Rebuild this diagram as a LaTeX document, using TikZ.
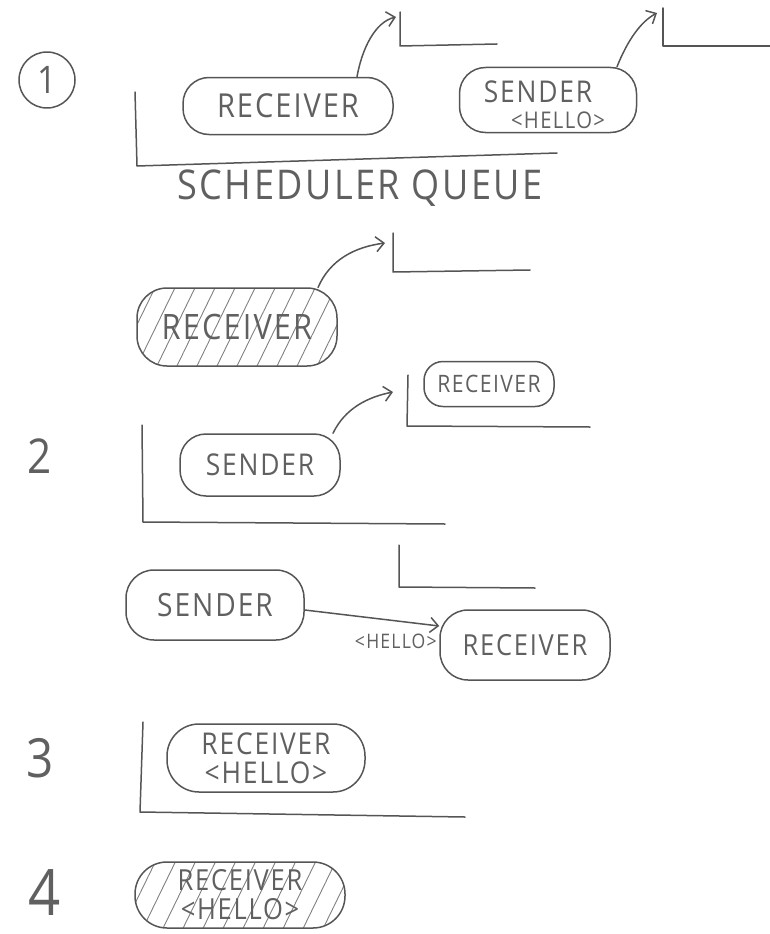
\documentclass[tikz,border=0pt]{standalone}
\usepackage{fontspec}
\setmainfont{Open Sans}[FakeStretch=0.88,LetterSpace=6]
\usetikzlibrary{arrows.meta,patterns.meta}
\definecolor{pencil}{HTML}{555555}
\definecolor{lead}{HTML}{606060}
\newcommand{\fsz}[1]{\fontsize{#1}{#1}\selectfont}
\tikzset{
  pencilline/.style={draw=pencil, line width=1.5pt, line cap=round, line join=round},
  procbox/.style={pencilline, rounded corners=26pt, inner sep=0pt, text=lead, align=center, font=\fsz{33}},
  hatched/.style={pattern={Lines[angle=64,distance=18pt,line width=0.9pt]}, pattern color=pencil!75},
  hop/.style={pencilline, -{Straight Barb[length=8pt,width=15pt,line width=1.5pt]}},
  steplbl/.style={text=lead, font=\fsz{48}},
  msg/.style={text=lead, font=\fsz{20}},
}
\begin{document}
\begin{tikzpicture}[x=1pt,y=-1pt]
\useasboundingbox (0,0) rectangle (770,934);

% ---------- step 1 ----------
\node[pencilline, circle, minimum size=56pt, text=lead, font=\fsz{38}] (s1) at (47,80) {1};
\draw[pencilline] (135,92) -- (137,166) -- (557,153);
\node[text=lead, font=\fsz{41}] (sq) at (360,188) {SCHEDULER QUEUE};

\node[procbox, minimum width=210pt, minimum height=57pt] (rcv1) at (288,106) {RECEIVER};
\node[procbox, minimum width=177pt, minimum height=65pt] (snd1) at (548,100) {};
\node[text=lead, font=\fsz{30}] (snd1t) at (538,92) {SENDER};
\node[text=lead, font=\fsz{23}] (snd1m) at (558,120) {<HELLO>};

\draw[pencilline] (400,12) -- (400,46) -- (497,44);
\coordinate (q1) at (396,17);
\draw[hop] ([xshift=69pt]rcv1.north) .. controls +(5,-28) and (375,22) .. (q1);

\draw[pencilline] (663,8) -- (663,46) -- (770,46);
\coordinate (q2) at (657,13);
\draw[hop] ([xshift=69pt]snd1.north) .. controls +(10,-25) and (640,22) .. (q2);

% ---------- step 2 ----------
\draw[pencilline] (393,233) -- (393,272) -- (530,270);
\node[procbox, hatched, rounded corners=30pt, minimum width=200pt, minimum height=78pt, font=\fsz{35}] (rcv2) at (237,327) {RECEIVER};
\coordinate (q3) at (385,243);
\draw[hop] ([xshift=81pt]rcv2.north) .. controls +(12,-28) and (355,247) .. (q3);

\node[procbox, rounded corners=19pt, minimum width=130pt, minimum height=45pt, font=\fsz{24}] (rcv3) at (489,384) {RECEIVER};
\draw[pencilline] (408,375) -- (407,426) -- (590,427);

\node[steplbl] (s2) at (40,456) {2};
\node[procbox, minimum width=160pt, minimum height=62pt, font=\fsz{30}] (snd2) at (260,465) {SENDER};
\draw[pencilline] (142,425) -- (143,522) -- (445,524);
\coordinate (q4) at (393,392);
\draw[hop] ([xshift=73pt]snd2.north) .. controls +(12,-25) and (368,397) .. (q4);

% ---------- transfer ----------
\draw[pencilline] (399,545) -- (399,587) -- (535,588);
\node[procbox, rounded corners=28pt, minimum width=178pt, minimum height=70pt, font=\fsz{32}] (snd3) at (215,605) {SENDER};
\node[procbox, rounded corners=28pt, minimum width=170pt, minimum height=70pt, font=\fsz{29}] (rcv4) at (525,645) {RECEIVER};
\draw[hop] ([yshift=-5pt]snd3.east) -- ([yshift=19pt]rcv4.west);
\node[msg, anchor=east] (m3) at ([xshift=1pt,yshift=4pt]rcv4.west) {<HELLO>};

% ---------- step 3 ----------
\node[steplbl, font=\fsz{54}] (s3) at (40,758) {3};
\draw[pencilline] (143,722) -- (140,812) -- (465,817);
\node[procbox, rounded corners=32pt, minimum width=198pt, minimum height=68pt, font=\fontsize{30}{29}\selectfont] (rh3) at (266,758) {RECEIVER\\<HELLO>};

% ---------- step 4 ----------
\node[steplbl, font=\fsz{64}] (s4) at (45,893) {4};
\node[procbox, hatched, rounded corners=32pt, minimum width=210pt, minimum height=66pt, font=\fontsize{29}{29}\selectfont] (rh4) at (240,895) {RECEIVER\\<HELLO>};
\end{tikzpicture}
\end{document}
